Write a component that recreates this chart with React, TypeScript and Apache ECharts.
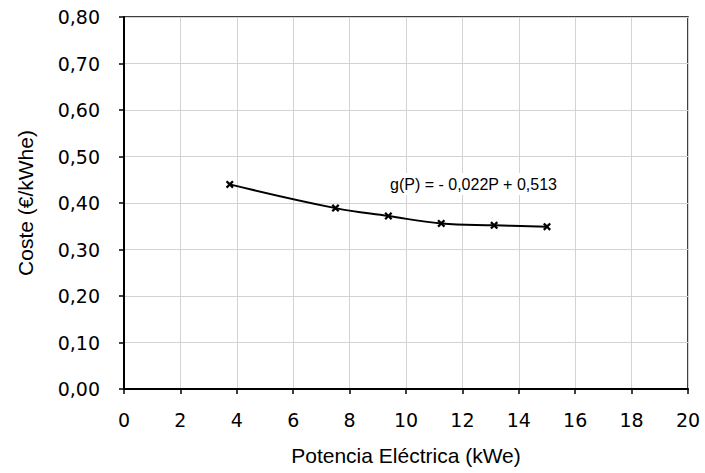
import React, { useEffect, useRef } from "react";
import * as echarts from "echarts";

const potencia = [3.75, 7.5, 9.375, 11.25, 13.125, 15];
const coste = [0.44, 0.389, 0.372, 0.356, 0.352, 0.349];
const xTitle = "Potencia Eléctrica (kWe)";
const yTitle = "Coste (€/kWhe)";
const equation = "g(P) = - 0,022P + 0,513";

export default function App() {
  const ref = useRef<HTMLDivElement>(null);
  useEffect(() => {
    const chart = echarts.init(ref.current!, null, { renderer: "svg" });
    chart.setOption({
      animation: false,
      backgroundColor: "#ffffff",
      grid: {
        left: 124,
        right: 17,
        top: 17,
        bottom: 84,
        show: true,
        borderColor: "#000",
        borderWidth: 1.5,
      },
      xAxis: {
        type: "value",
        min: 0,
        max: 20,
        interval: 2,
        name: xTitle,
        nameLocation: "middle",
        nameGap: 56,
        nameTextStyle: { fontFamily: "Liberation Sans", fontSize: 21, color: "#000" },
        axisLine: { show: true, lineStyle: { color: "#000", width: 2 } },
        axisTick: { show: true, length: 5, lineStyle: { color: "#000", width: 1.5 } },
        axisLabel: { fontFamily: "DejaVu Sans", fontSize: 19, color: "#000", margin: 21 },
        splitLine: { show: true, lineStyle: { color: "#d3d3d3", width: 1 } },
      },
      yAxis: {
        type: "value",
        min: 0,
        max: 0.8,
        interval: 0.1,
        name: yTitle,
        nameLocation: "middle",
        nameGap: 88,
        nameRotate: 90,
        nameTextStyle: { fontFamily: "Liberation Sans", fontSize: 21, color: "#000" },
        axisLine: { show: true, lineStyle: { color: "#000", width: 2 } },
        axisTick: { show: true, length: 5, lineStyle: { color: "#000", width: 1.5 } },
        axisLabel: {
          fontFamily: "DejaVu Sans",
          fontSize: 19,
          color: "#000",
          margin: 24,
          formatter: (v: number) => v.toFixed(2).replace(".", ","),
        },
        splitLine: { show: true, lineStyle: { color: "#d3d3d3", width: 1 } },
      },
      graphic: [
        {
          type: "text",
          left: 387,
          top: 173,
          z: 100,
          style: {
            text: equation,
            fontFamily: "Liberation Sans",
            fontSize: 16,
            fill: "#000",
            backgroundColor: "#ffffff",
            padding: [3, 3, 3, 3],
          },
        },
      ],
      series: [
        {
          type: "line",
          data: potencia.map((p, i) => [p, coste[i]]),
          smooth: 0.4,
          lineStyle: { color: "#000", width: 2 },
          symbol:
            "path://M0,2 L2,0 L5,3 L8,0 L10,2 L7,5 L10,8 L8,10 L5,7 L2,10 L0,8 L3,5 Z",
          symbolSize: 8,
          itemStyle: { color: "#000" },
          z: 5,
        },
      ],
    });
    return () => chart.dispose();
  }, []);
  return (
    <div
      ref={ref}
      style={{ position: "fixed", left: 0, top: 0, width: 705, height: 473 }}
    />
  );
}
